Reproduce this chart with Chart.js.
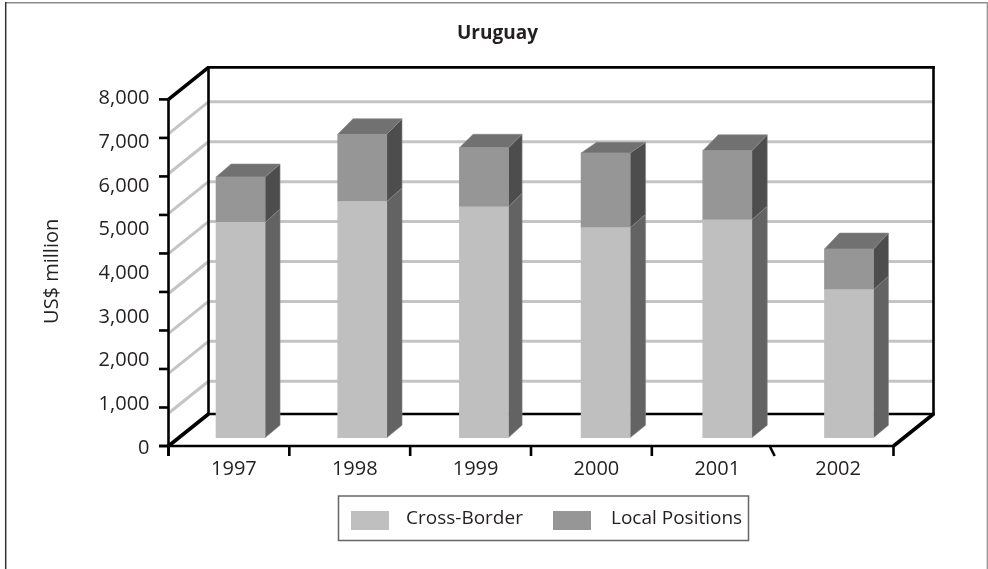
<!DOCTYPE html>
<html>
<head>
<meta charset="utf-8">
<title>Uruguay</title>
<script src="https://cdn.jsdelivr.net/npm/chart.js@4"></script>
<style>
  html, body { margin: 0; padding: 0; background: #fff; }
  canvas { display: block; }
</style>
</head>
<body>
<canvas id="chart" width="988" height="569"></canvas>
<script>
// Cross-border and local claims on Uruguay, US$ million
const years = ['1997', '1998', '1999', '2000', '2001', '2002'];
const crossBorder = [4930, 5410, 5290, 4810, 4990, 3390];
const localPositions = [1040, 1540, 1350, 1710, 1580, 930];
const valueTicks = [0, 1000, 2000, 3000, 4000, 5000, 6000, 7000, 8000];
const axisMarks = [0, 1, 2, 3, 4, 5, 6, 7, 8, 9];
const wallLines = [1, 2, 3, 4, 5, 6, 7, 8];
// Depth of each column's cap, which varies slightly from column to column
const capRise = [13, 15.5, 13.5, 10.7, 16, 16];
const capRun = [15, 15.3, 13.7, 15.5, 15.5, 15];

const INK = '#231f20';
const TXT_FONT = 'Open Sans';

// Shades of each series: front, side and top of a column
const shades = {
  cross: { front: '#bfbfbf', side: '#636363', top: '#717171' },
  local: { front: '#969696', side: '#4d4d4d', top: '#717171' }
};

function poly(ctx, pts, fill) {
  ctx.beginPath();
  pts.forEach((p, i) => i ? ctx.lineTo(p[0], p[1]) : ctx.moveTo(p[0], p[1]));
  ctx.closePath();
  ctx.fillStyle = fill;
  ctx.fill();
  ctx.strokeStyle = '#8a8a8a';
  ctx.lineWidth = 0.6;
  ctx.stroke();
}

function seg(ctx, x1, y1, x2, y2, color, width) {
  ctx.beginPath();
  ctx.moveTo(x1, y1);
  ctx.lineTo(x2, y2);
  ctx.strokeStyle = color;
  ctx.lineWidth = width;
  ctx.stroke();
}

// Box, walls, floor and the extruded column faces
const boxPlugin = {
  id: 'box',
  beforeDraw(chart) {
    const ctx = chart.ctx;
    ctx.save();
    ctx.lineCap = 'butt';
    seg(ctx, 5, 2.7, 988, 2.7, '#8c8c8c', 1.5);
    seg(ctx, 5.7, 2, 5.7, 569, '#333333', 1.5);
    seg(ctx, 987.4, 2, 987.4, 569, '#9a9a9a', 1.5);
    ctx.restore();
  },
  beforeDatasetsDraw(chart) {
    const ctx = chart.ctx;
    const { left, right } = chart.chartArea;
    const marks = chart.scales.marks;
    const walls = chart.scales.walls;
    const floorY = chart.scales.y.getPixelForValue(0);
    const topY = marks.getPixelForValue(9);
    const dx = 40, dy = -32;
    ctx.save();
    ctx.lineCap = 'butt';

    // Grid lines along the side wall and the back wall
    wallLines.forEach(v => {
      const y = walls.getPixelForValue(v);
      seg(ctx, left, y, left + dx, y + dy, '#c4c4c4', 3);
      seg(ctx, left + dx, y + dy, right + dx, y + dy, '#c4c4c4', 3);
    });

    // Back wall and floor outline
    ctx.lineCap = 'square';
    seg(ctx, left + dx, topY + dy, right + dx, topY + dy, '#000', 2.6);
    seg(ctx, left + dx, topY + dy, left + dx, floorY + dy, '#000', 2.6);
    seg(ctx, right + dx, topY + dy, right + dx, floorY + dy, '#000', 2.6);
    seg(ctx, left + dx, floorY + dy, right + dx, floorY + dy, '#000', 2.6);
    ctx.lineCap = 'butt';
    seg(ctx, left, topY, left + dx, topY + dy, '#000', 3.6);
    seg(ctx, left, floorY, left + dx, floorY + dy, '#000', 3.6);
    seg(ctx, right, floorY, right + dx, floorY + dy, '#000', 3.6);

    // Front axes and their tick marks
    seg(ctx, left, topY, left, floorY + 10, '#000', 2.6);
    seg(ctx, left - 9.5, floorY, right, floorY, '#000', 2.6);
    axisMarks.forEach(v => {
      const y = marks.getPixelForValue(v);
      seg(ctx, left - 9.5, y, left, y, '#000', 2.6);
    });
    const xs = chart.scales.x;
    years.concat('').forEach((_, i) => {
      const x = xs.getPixelForValue(i - 0.5);
      const lean = i === 5 ? -3 : 0;
      seg(ctx, x + lean, floorY, x + lean + (lean ? 5 : 0), floorY + 10, '#000', 2.6);
    });

    // Side and top faces behind each column
    const baseRise = 12.5, jointRise = 13.5;
    [['cross', 0], ['local', 1]].forEach(([key, idx]) => {
      chart.getDatasetMeta(idx).data.forEach((bar, i) => {
        const r = bar.x + bar.width / 2;
        const l = bar.x - bar.width / 2;
        const run = capRun[i];
        const upper = idx === 1 ? capRise[i] : jointRise;
        const lower = idx === 1 ? jointRise : baseRise;
        poly(ctx, [[r, bar.y], [r + run, bar.y - upper], [r + run, bar.base - lower], [r, bar.base]], shades[key].side);
        if (idx === 1) {
          poly(ctx, [[l, bar.y], [l + run, bar.y - upper], [r + run, bar.y - upper], [r, bar.y]], shades[key].top);
        }
      });
    });
    ctx.restore();
  },
  afterDraw(chart) {
    // Series key in a framed box under the plot
    const ctx = chart.ctx;
    ctx.save();
    ctx.strokeStyle = '#666666';
    ctx.lineWidth = 1.5;
    ctx.strokeRect(338.5, 496, 410, 44.5);
    ctx.font = '19px "' + TXT_FONT + '"';
    ctx.textBaseline = 'middle';
    const slots = [[351, 406], [553, 611]];
    chart.data.datasets.forEach((ds, i) => {
      ctx.fillStyle = ds.backgroundColor;
      ctx.fillRect(slots[i][0], 511, 38, 19);
      ctx.fillStyle = INK;
      ctx.fillText(ds.label, slots[i][1], 518.5);
    });
    ctx.restore();
  }
};

const toPoints = values => values.map((v, i) => ({ x: i, y: v }));

new Chart(document.getElementById('chart'), {
  type: 'bar',
  data: {
    labels: years,
    datasets: [
      { label: 'Cross-Border', data: toPoints(crossBorder), backgroundColor: shades.cross.front, xAxisID: 'barX', yAxisID: 'barY', barThickness: 49 },
      { label: 'Local Positions', data: toPoints(localPositions), backgroundColor: shades.local.front, xAxisID: 'barX', yAxisID: 'barY', barThickness: 49 }
    ]
  },
  plugins: [boxPlugin],
  options: {
    responsive: false,
    animation: false,
    layout: { padding: { left: 7, right: 0, top: 0, bottom: 0 } },
    plugins: {
      legend: { display: false },
      tooltip: { enabled: false },
      title: {
        display: true,
        text: 'Uruguay',
        color: INK,
        font: { family: TXT_FONT, size: 19, weight: 'bold', lineHeight: 1.2 },
        padding: { top: 22, bottom: 51.9 }
      }
    },
    scales: {
      x: {
        type: 'category',
        offset: true,
        grid: { display: false, drawTicks: false },
        border: { display: false },
        ticks: { color: INK, padding: 11, labelOffset: 5, maxRotation: 0, autoSkip: false, font: { family: TXT_FONT, size: 20 } },
        afterFit(s) { s.height = 123; }
      },
      y: {
        min: 0,
        max: 8000,
        afterBuildTicks(s) { s.ticks = valueTicks.map(v => ({ value: v })); },
        grid: { display: false, drawTicks: false },
        border: { display: false },
        ticks: {
          color: INK,
          padding: 19,
          labelOffset: 2,
          autoSkip: false,
          font: { family: TXT_FONT, size: 20 },
          callback: v => v.toLocaleString('en-US')
        },
        title: {
          display: true,
          text: 'US$ million',
          color: INK,
          font: { family: TXT_FONT, size: 20, lineHeight: 1.2 },
          padding: { top: 33, bottom: 0 }
        },
        afterFit(s) { s.width = 161.5; }
      },
      // Hidden scales that place the axis marks, wall lines and inset columns
      marks: { type: 'linear', display: false, position: 'right', min: 0, max: 9.07, afterFit(s) { s.width = 94.5; } },
      walls: { type: 'linear', display: false, position: 'left', min: 0.18, max: 8.93 },
      barX: { type: 'linear', display: false, position: 'bottom', offset: false, stacked: true, min: -0.592, max: 5.366 },
      barY: { type: 'linear', display: false, position: 'left', stacked: true, min: -190, max: 7810 }
    }
  }
});
</script>
</body>
</html>
